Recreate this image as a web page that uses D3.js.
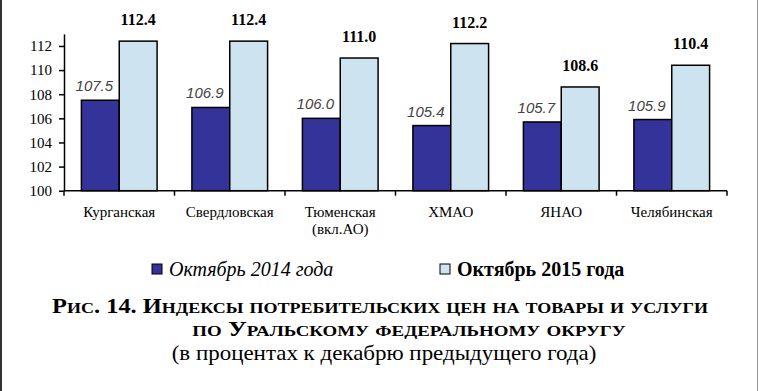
<!DOCTYPE html>
<html><head><meta charset="utf-8">
<script src="https://cdn.jsdelivr.net/npm/d3@7/dist/d3.min.js"></script>
</head>
<body style="margin:0;background:#fff">
<svg id="c" width="760" height="391"></svg>
<script>
const categories = ["Курганская","Свердловская","Тюменская\n(вкл.АО)","ХМАО","ЯНАО","Челябинская"];
const values2014 = [107.5,106.9,106.0,105.4,105.7,105.9];
const values2015 = [112.4,112.4,111.0,112.2,108.6,110.4];
const seriesNames = ["Октябрь 2014 года","Октябрь 2015 года"];
const yTicks = [100,102,104,106,108,110,112];
const titleLines = ["Рис. 14. Индексы потребительских цен на товары и услуги","по Уральскому федеральному округу"];
const subtitle = "(в процентах к декабрю предыдущего года)";

const SERIF = "'Liberation Serif','Times New Roman',serif";
const SANS = "'Liberation Sans',Arial,sans-serif";
const colors = ["#333399","#cde4f0"];
const svg = d3.select("#c");

svg.append("line").attr("x1",1).attr("x2",1).attr("y1",0).attr("y2",391).attr("stroke","#333").attr("stroke-width",2);
svg.append("line").attr("x1",757.5).attr("x2",757.5).attr("y1",0).attr("y2",391).attr("stroke","#999").attr("stroke-width",1);

const x0 = d3.scaleBand().domain(d3.range(categories.length)).range([64,727]).paddingInner(0).paddingOuter(0);
const x1 = d3.scaleBand().domain([0,1]).range([0,x0.bandwidth()]).paddingOuter(0.46).paddingInner(0);
const y = d3.scaleLinear().domain([100,113]).range([190.7,33.9]);

const data = categories.map((c,i)=>({i, v:[values2014[i],values2015[i]]}));

const groups = svg.append("g").selectAll("g.grp").data(data).join("g").attr("transform",d=>`translate(${x0(d.i)},0)`);
groups.selectAll("rect").data(d=>d.v.map((v,s)=>({v,s}))).join("rect")
  .attr("x",d=>x1(d.s)).attr("width",x1.bandwidth())
  .attr("y",d=>y(d.v)).attr("height",d=>y(100)-y(d.v))
  .attr("fill",d=>colors[d.s]).attr("stroke","#000").attr("stroke-width",1.5);

groups.append("text").attr("x",x1(0)+x1.bandwidth()/2-6).attr("y",d=>y(d.v[0])-9)
  .attr("text-anchor","middle").style("font-family",SANS)
  .style("font-style","italic").style("font-size","15px").attr("fill","#444").text(d=>d.v[0].toFixed(1));
groups.append("text").attr("x",x1(1)+x1.bandwidth()/2).attr("y",d=>y(d.v[1])-16)
  .attr("text-anchor","middle").style("font-family",SERIF).style("font-weight","bold").style("font-size","16px").attr("fill","#000").text(d=>d.v[1].toFixed(1));

const yAxis = d3.axisLeft(y).tickValues(yTicks).tickSize(5).tickSizeOuter(0).tickPadding(7).tickFormat(d3.format("d"));
const ya = svg.append("g").attr("transform","translate(64,0)").call(yAxis);
ya.select(".domain").attr("stroke","#000").attr("stroke-width",1.5);
ya.selectAll(".tick line").attr("stroke","#000").attr("stroke-width",1.5);
ya.selectAll("text").style("font-family",SERIF).style("font-size","15px").attr("fill","#000");

const xa = svg.append("g").attr("transform",`translate(0,${y(100)})`);
xa.append("line").attr("x1",64).attr("x2",727).attr("stroke","#000").attr("stroke-width",1.5);
xa.selectAll("line.tk").data(d3.range(categories.length+1)).join("line").attr("class","tk")
  .attr("x1",d=>64+d*x0.bandwidth()).attr("x2",d=>64+d*x0.bandwidth()).attr("y1",0).attr("y2",5)
  .attr("stroke","#000").attr("stroke-width",1.5);
xa.selectAll("text.cat").data(categories).join("text").attr("class","cat")
  .attr("text-anchor","middle").style("font-family",SERIF).style("font-size","15px").attr("fill","#000")
  .each(function(c,i){
    const t=d3.select(this);
    c.split("\n").forEach((ln,k)=>t.append("tspan").attr("x",x0(i)+x0.bandwidth()/2).attr("y",26+k*17).text(ln));
  });

const legX = [152,440];
seriesNames.forEach((n,s)=>{
  svg.append("rect").attr("x",legX[s]).attr("y",264).attr("width",10).attr("height",10)
    .attr("fill",colors[s]).attr("stroke","#000").attr("stroke-width",1);
  svg.append("text").attr("x",legX[s]+17).attr("y",276).style("font-family",SERIF).style("font-size","20px")
    .style("font-style",s===0?"italic":"normal").style("font-weight",s===1?"bold":"normal").text(n);
});

// title lines: horizontally scaled to the reference widths
function fitWidth(g, txt, target){
  const w = txt.node().getComputedTextLength();
  const sc = target / w;
  g.attr("transform", g.attr("transform") + ` scale(${sc},1)`);
}
const titleGeom = [{cx:380,y:313,w:656},{cx:409,y:336,w:434}];
titleLines.forEach((t,k)=>{
  const g = svg.append("g").attr("transform",`translate(${titleGeom[k].cx},${titleGeom[k].y})`);
  const txt = g.append("text").attr("x",0).attr("y",0).attr("text-anchor","middle")
    .style("font-family",SERIF).style("font-weight","bold");
  const runs=[];
  for(const ch of t){
    const small = ch !== ch.toUpperCase();
    if(runs.length && runs[runs.length-1].small===small) runs[runs.length-1].s+=ch;
    else runs.push({small,s:ch});
  }
  runs.forEach(r=>txt.append("tspan").style("font-size",r.small?"15.5px":"21px").text(r.small?r.s.toUpperCase():r.s));
  fitWidth(g, txt, titleGeom[k].w);
});
const sg = svg.append("g").attr("transform","translate(384,360)");
const sub = sg.append("text").attr("x",0).attr("y",0).attr("text-anchor","middle").style("font-family",SERIF).style("font-size","22px").text(subtitle);
fitWidth(sg, sub, 425);
</script></body></html>
